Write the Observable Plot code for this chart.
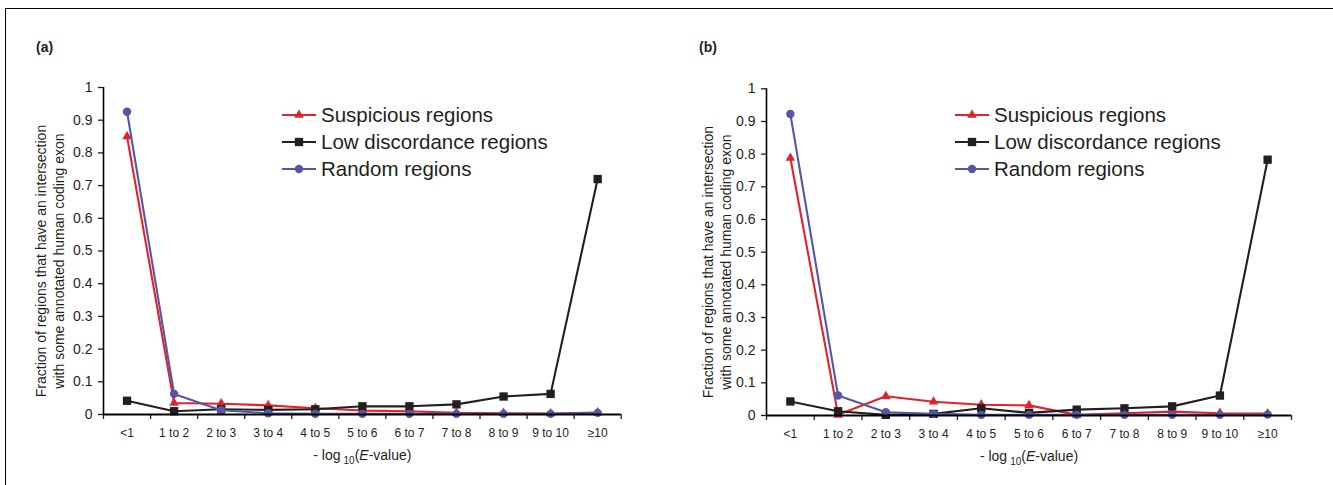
<!DOCTYPE html>
<html>
<head>
<meta charset="utf-8">
<script src="https://cdn.jsdelivr.net/npm/d3@7"></script>
<script src="https://cdn.jsdelivr.net/npm/@observablehq/plot@0.6"></script>
<style>
  body { margin: 0; background: #fff; }
  #root { position: relative; width: 1333px; height: 485px; overflow: hidden; font-family: "Liberation Sans", Arial, Helvetica, sans-serif; color: #231f20; }
  .frame { position: absolute; left: 5px; top: 8px; width: 1400px; height: 600px; border-top: 1.5px solid #000; border-left: 1.5px solid #000; }
  .panel { position: absolute; }
  .tag { position: absolute; font-weight: bold; font-size: 14px; line-height: 16px; }
  .legend { position: absolute; }
  .legend .row { position: absolute; left: 0; height: 24px; display: flex; align-items: center; white-space: nowrap; font-size: 20.5px; }
  .legend svg { display: block; margin-right: 4px; }
</style>
</head>
<body>
<div id="root">
  <div class="frame"></div>
</div>
<script>
// ---------- data ----------
const categories = ["<1", "1 to 2", "2 to 3", "3 to 4", "4 to 5", "5 to 6", "6 to 7", "7 to 8", "8 to 9", "9 to 10", "≥10"];
const seriesNames = ["Suspicious regions", "Low discordance regions", "Random regions"];
const seriesColors = ["#e3232b", "#231f20", "#5457a6"];
const seriesSymbols = ["triangle", "square", "circle"];
const yTicks = [0, 0.1, 0.2, 0.3, 0.4, 0.5, 0.6, 0.7, 0.8, 0.9, 1];
const yTitle = "Fraction of regions that have an intersection\nwith some annotated human coding exon";
const xTitle = "- log10(E-value)";
const panelTags = ["(a)", "(b)"];

// panel (a)
const suspiciousA = [0.85, 0.035, 0.033, 0.028, 0.019, 0.012, 0.010, 0.005, 0.004, 0.003, 0.006];
const lowDiscA    = [0.042, 0.010, 0.016, 0.014, 0.016, 0.025, 0.025, 0.031, 0.055, 0.063, 0.72];
const randomA     = [0.926, 0.063, 0.013, 0.004, 0.002, 0.002, 0.002, 0.002, 0.002, 0.002, 0.005];
// panel (b)
const suspiciousB = [0.788, 0.002, 0.059, 0.042, 0.033, 0.031, 0.002, 0.007, 0.012, 0.007, 0.006];
const lowDiscB    = [0.043, 0.013, 0.002, 0.005, 0.022, 0.008, 0.018, 0.022, 0.028, 0.061, 0.783];
const randomB     = [0.923, 0.061, 0.010, 0.005, 0.002, 0.002, 0.002, 0.002, 0.002, 0.002, 0.003];

const FONT = '"Liberation Sans", Arial, Helvetica, sans-serif';
const yFmt = d3.format("~g");
const root = document.getElementById("root");

function rows(values) {
  const out = [];
  seriesNames.forEach((s, k) => values[k].forEach((v, i) => out.push({series: s, cat: categories[i], i, v})));
  return out;
}

function fixXTitle(svg) {
  for (const t of svg.querySelectorAll("text")) {
    if (t.textContent === xTitle) {
      t.textContent = "";
      t.setAttribute("font-size", "14");
      const parts = [
        ["- log", {}],
        ["10", {"font-size": "10px", dx: "3", dy: "4"}],
        ["(", {dy: "-4"}],
        ["E", {"font-style": "italic"}],
        ["-value)", {}]
      ];
      for (const [txt, attrs] of parts) {
        const ts = document.createElementNS("http://www.w3.org/2000/svg", "tspan");
        for (const [k, val] of Object.entries(attrs)) ts.setAttribute(k, val);
        ts.textContent = txt;
        t.appendChild(ts);
      }
    }
  }
}

function panel(values, cfg) {
  const data = rows(values);
  const seriesMarks = [];
  seriesNames.forEach((s, k) => {
    const d = data.filter(r => r.series === s);
    seriesMarks.push(Plot.line(d, {x: r => r.i + 0.5, y: "v", stroke: seriesColors[k], strokeWidth: 2.1}));
    seriesMarks.push(Plot.dot(d, {x: r => r.i + 0.5, y: "v", fill: seriesColors[k], stroke: "none", symbol: seriesSymbols[k], r: k === 0 ? 3.6 : (k === 1 ? 4.7 : 4.2)}));
  });
  const svg = Plot.plot({
    width: cfg.width, height: cfg.height,
    marginLeft: cfg.ml, marginRight: cfg.mr, marginTop: cfg.mt, marginBottom: cfg.mb,
    x: {domain: [0, categories.length], axis: null},
    y: {domain: [0, 1], axis: null},
    style: {fontFamily: FONT, background: "transparent", overflow: "visible", color: "#231f20"},
    marks: [
      // tick marks (labels drawn as text marks below)
      Plot.axisY({ticks: yTicks, tickFormat: () => "", tickSize: 5, label: null, strokeWidth: 1.3}),
      Plot.axisX({ticks: d3.range(categories.length + 1), tickFormat: () => "", tickSize: 5, label: null, strokeWidth: 1.3}),
      Plot.text(yTicks, {x: () => 0, y: d => d, text: yFmt, textAnchor: "end", lineAnchor: "middle", dx: -11, fontSize: 14, fill: "#231f20"}),
      Plot.text(categories, {x: (d, i) => i + 0.5, y: () => 0, text: d => d, textAnchor: "middle", lineAnchor: "middle", dy: 18.7, fontSize: 12, fill: "#231f20"}),
      ...seriesMarks,
      Plot.ruleX([0], {stroke: "#000", strokeWidth: 1.6}),
      Plot.ruleY([0], {stroke: "#000", strokeWidth: 2.2}),
      Plot.text([yTitle], {text: d => d, frameAnchor: "left", textAnchor: "middle", rotate: -90, dx: cfg.ydx, dy: 10, fontSize: 14, lineHeight: 1.3, fill: "#231f20"}),
      Plot.text([xTitle], {text: d => d, frameAnchor: "bottom", textAnchor: "middle", lineAnchor: "middle", dy: 41, fontSize: 14, fill: "#231f20"})
    ]
  });
  fixXTitle(svg);
  const div = document.createElement("div");
  div.className = "panel";
  div.style.left = cfg.left + "px";
  div.style.top = cfg.top + "px";
  div.appendChild(svg);
  root.appendChild(div);

  // panel tag
  const tag = document.createElement("div");
  tag.className = "tag";
  tag.style.left = cfg.tagX + "px";
  tag.style.top = cfg.tagY + "px";
  tag.textContent = cfg.tag;
  root.appendChild(tag);

  // legend
  const lg = document.createElement("div");
  lg.className = "legend";
  lg.style.left = cfg.legX + "px";
  lg.style.top = cfg.legY + "px";
  const symTypes = {triangle: d3.symbolTriangle, square: d3.symbolSquare, circle: d3.symbolCircle};
  const rr = [3.6, 4.7, 4.2];
  seriesNames.forEach((s, k) => {
    const row = document.createElement("div");
    row.className = "row";
    row.style.top = (k * 27.2) + "px";
    const sw = d3.create("svg").attr("width", 35).attr("height", 24);
    sw.append("line").attr("x1", 0).attr("x2", 34).attr("y1", 12).attr("y2", 12).attr("stroke", seriesColors[k]).attr("stroke-width", 2);
    sw.append("path").attr("transform", "translate(17,12)").attr("fill", seriesColors[k])
      .attr("d", d3.symbol(symTypes[seriesSymbols[k]], Math.PI * rr[k] * rr[k])());
    row.appendChild(sw.node());
    const span = document.createElement("span");
    span.textContent = s;
    row.appendChild(span);
    lg.appendChild(row);
  });
  root.appendChild(lg);
}

panel([suspiciousA, lowDiscA, randomA], {
  left: 0, top: 60, width: 660, height: 420, ml: 103, mr: 39.3, mt: 27, mb: 66, ydx: -54,
  tag: panelTags[0], tagX: 36, tagY: 39, legX: 282, legY: 103
});
panel([suspiciousB, lowDiscB, randomB], {
  left: 660, top: 60, width: 673, height: 420, ml: 106, mr: 42, mt: 28.3, mb: 65, ydx: -50,
  tag: panelTags[1], tagX: 699, tagY: 39, legX: 955, legY: 103
});
</script>
</body>
</html>
